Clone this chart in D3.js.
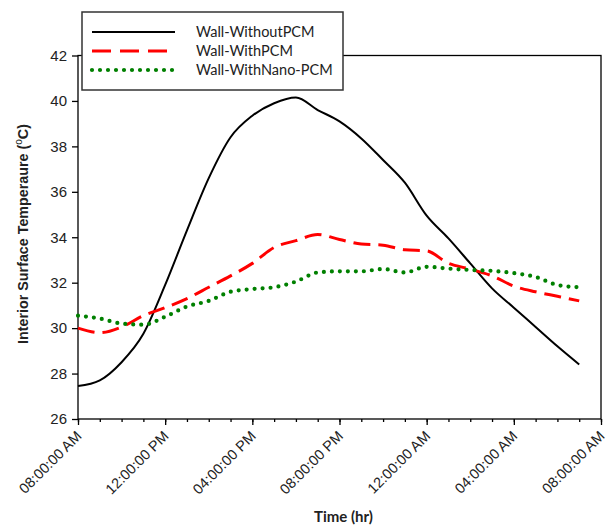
<!DOCTYPE html>
<html>
<head>
<meta charset="utf-8">
<script src="https://cdn.jsdelivr.net/npm/d3@7"></script>
<style>
  body { margin: 0; background: #fff; }
  svg { display: block; font-family: "Liberation Sans", Arial, sans-serif; }
</style>
</head>
<body>
<div id="chart"></div>
<script>
// hours after 08:00 AM
const hours = [0, 1, 2, 3, 4, 5, 6, 7, 8, 9, 10, 11, 12, 13, 14, 15, 16, 17, 18, 19, 20, 21, 22, 23];

const withoutPCM = [27.45, 27.7, 28.5, 29.75, 31.9, 34.3, 36.6, 38.4, 39.35, 39.9, 40.15, 39.6,
  39.1, 38.35, 37.4, 36.4, 34.95, 33.95, 32.85, 31.75, 30.9, 30.05, 29.2, 28.4];
const withPCM = [30.0, 29.8, 30.05, 30.55, 30.9, 31.3, 31.8, 32.3, 32.85, 33.55, 33.85, 34.12,
  33.9, 33.7, 33.65, 33.45, 33.4, 32.85, 32.6, 32.3, 31.85, 31.6, 31.4, 31.2];
const withNanoPCM = [30.55, 30.42, 30.2, 30.15, 30.5, 30.95, 31.2, 31.6, 31.72, 31.8, 32.05, 32.45,
  32.5, 32.5, 32.6, 32.45, 32.7, 32.62, 32.56, 32.52, 32.42, 32.25, 31.9, 31.8];

const seriesNames = ["Wall-WithoutPCM", "Wall-WithPCM", "Wall-WithNano-PCM"];
const yTicks = [26, 28, 30, 32, 34, 36, 38, 40, 42];

const width = 609,
  height = 527,
  margin = ({ top: 55.5, right: 8, bottom: 108, left: 78 });

const start = new Date(2020, 0, 1, 8, 0, 0);
const end = new Date(2020, 0, 2, 8, 0, 0);
const toDate = h => d3.timeHour.offset(start, h);

const x = d3.scaleTime()
  .domain([start, end])
  .range([margin.left, width - margin.right]);

const y = d3.scaleLinear()
  .domain([26, 42])
  .range([height - margin.bottom, margin.top]);

const svg = d3.select("#chart")
  .append("svg")
  .attr("width", width)
  .attr("height", height)
  .attr("viewBox", [0, 0, width, height]);

// frame
svg.append("rect")
  .attr("x", margin.left)
  .attr("y", margin.top)
  .attr("width", width - margin.left - margin.right)
  .attr("height", height - margin.top - margin.bottom)
  .attr("fill", "none")
  .attr("stroke", "#000")
  .attr("stroke-width", 1.3);

// x axis: minor ticks every hour, major every 4 hours
svg.append("g")
  .attr("transform", `translate(0,${height - margin.bottom})`)
  .call(d3.axisBottom(x)
    .ticks(d3.timeHour.every(1))
    .tickSize(3)
    .tickFormat(""))
  .call(g => g.select(".domain").remove())
  .call(g => g.selectAll("line").attr("stroke-width", 1.3));

const xMajor = svg.append("g")
  .attr("transform", `translate(0,${height - margin.bottom})`)
  .call(d3.axisBottom(x)
    .ticks(d3.timeHour.every(4))
    .tickSize(6)
    .tickFormat(d3.timeFormat("%I:%M:%S %p")))
  .call(g => g.select(".domain").remove());

xMajor.selectAll("line").attr("stroke-width", 1.3);
xMajor.selectAll("text")
  .attr("font-size", 14.5)
  .attr("font-family", "Liberation Sans, Arial, sans-serif")
  .attr("fill", "#222")
  .attr("text-anchor", "end")
  .attr("x", 0)
  .attr("y", 0)
  .attr("dy", 0)
  .attr("transform", "translate(4,18) rotate(-45)");

// y axis
svg.append("g")
  .attr("transform", `translate(${margin.left},0)`)
  .call(d3.axisLeft(y).tickValues(yTicks).tickSize(6).tickPadding(5))
  .call(g => g.select(".domain").remove())
  .call(g => g.selectAll("line").attr("stroke-width", 1.3))
  .call(g => g.selectAll("text")
    .attr("font-size", 15)
    .attr("font-family", "Liberation Sans, Arial, sans-serif")
    .attr("fill", "#222"));

// axis titles
svg.append("text")
  .attr("x", (margin.left + width - margin.right) / 2 + 4)
  .attr("y", 522)
  .attr("text-anchor", "middle")
  .attr("font-family", "Lato, sans-serif")
  .attr("font-size", 15)
  .attr("font-weight", "bold")
  .attr("fill", "#222")
  .text("Time (hr)");

const yTitle = svg.append("text")
  .attr("transform", "translate(28,234) rotate(-90)")
  .attr("text-anchor", "middle")
  .attr("font-size", 14.3)
  .attr("font-weight", "bold")
  .attr("fill", "#222");
yTitle.append("tspan").text("Interior Surface Temperaure (");
yTitle.append("tspan").attr("dy", -6).attr("font-size", 10).attr("font-weight", "normal").text("o");
yTitle.append("tspan").attr("dy", 6).text("C)");

// lines
const line = d3.line()
  .x((d, i) => x(toDate(hours[i])))
  .y(d => y(d))
  .curve(d3.curveMonotoneX);

const styles = [
  { color: "#000", width: 2, dash: null, cap: "butt" },
  { color: "#f00", width: 3, dash: "17 8", cap: "butt" },
  { color: "#008000", width: 4.2, dash: "0 8", cap: "round" }
];
const seriesData = [withoutPCM, withPCM, withNanoPCM];

svg.append("g")
  .selectAll("path")
  .data(seriesData)
  .join("path")
  .attr("d", d => line(d))
  .attr("fill", "none")
  .attr("stroke", (d, i) => styles[i].color)
  .attr("stroke-width", (d, i) => styles[i].width)
  .attr("stroke-dasharray", (d, i) => styles[i].dash)
  .attr("stroke-linecap", (d, i) => styles[i].cap);

// legend
const legend = svg.append("g").attr("transform", "translate(82,12)");

legend.append("rect")
  .attr("width", 261)
  .attr("height", 78)
  .attr("fill", "#fff")
  .attr("stroke", "#333")
  .attr("stroke-width", 1.5);

const rows = legend.selectAll("g")
  .data(seriesNames)
  .join("g")
  .attr("transform", (d, i) => `translate(0,${20 + i * 19})`);

rows.append("line")
  .attr("x1", 10)
  .attr("x2", 93)
  .attr("stroke", (d, i) => styles[i].color)
  .attr("stroke-width", (d, i) => styles[i].width)
  .attr("stroke-dasharray", (d, i) => i === 1 ? "19 9" : styles[i].dash)
  .attr("stroke-linecap", (d, i) => styles[i].cap);

rows.append("text")
  .attr("x", 114)
  .attr("dy", "0.35em")
  .attr("font-family", "Lato, 'Open Sans', sans-serif")
  .attr("font-size", 14.5)
  .attr("fill", "#222")
  .text(d => d);
</script>
</body>
</html>
